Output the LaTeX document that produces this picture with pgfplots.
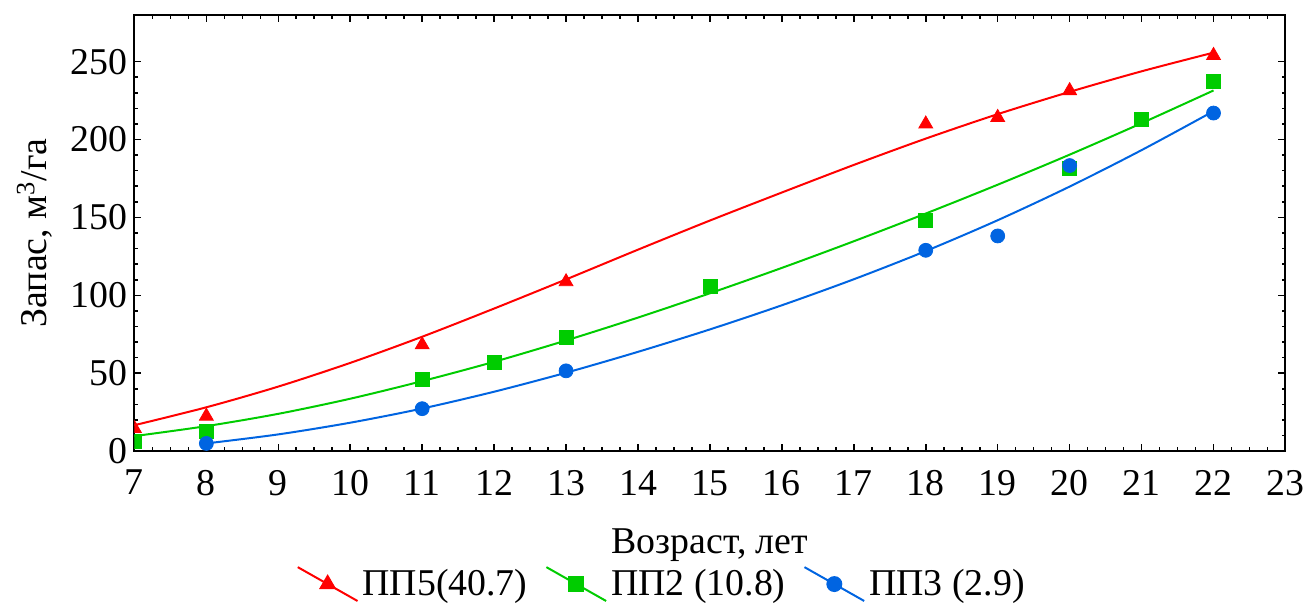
\documentclass[border=0pt]{standalone}
\usepackage{fontspec}
\setmainfont{Liberation Serif}
\usepackage{pgfplots}
\pgfplotsset{compat=1.18}
\definecolor{cred}{RGB}{255,0,0}
\definecolor{cgreen}{RGB}{0,204,0}
\definecolor{cblue}{RGB}{0,100,225}
\begin{document}
\begin{tikzpicture}[font=\fontsize{19}{23}\selectfont]
\begin{axis}[
  scale only axis,
  width=578pt, height=219pt,
  xmin=7, xmax=23, ymin=0, ymax=280,
  xtick={7,8,9,10,11,12,13,14,15,16,17,18,19,20,21,22,23},
  xticklabels={7,8,9,10,11,12,13,14,15,16,17,18,19,20,21,22,23},
  ytick={0,50,100,150,200,250},
  yticklabels={0,50,100,150,200,250},
  minor x tick num=3, minor y tick num=4,
  tick align=inside,
  major tick length=3.5pt, minor tick length=1.8pt,
  every tick/.style={black, line width=0.8pt},
  axis line style={line width=1pt},
  xticklabel style={yshift=-6pt},
  xlabel={Возраст, лет},
  ylabel={Запас, м\textsuperscript{3}/га},
  xlabel style={at={(axis description cs:0.5,-0.215)}, anchor=center},
  ylabel style={at={(axis description cs:-0.0865,0.5)}, anchor=center},
  clip marker paths=true,
  legend columns=3,
  legend style={at={(0.459,-0.305)}, anchor=center, draw=none, fill=none,
    /tikz/every even column/.style={column sep=7pt}},
  legend image code/.code={\draw[mark repeat=2,mark phase=2,#1] plot coordinates {(0pt,8.5pt)(15pt,0pt)(30pt,-8.5pt)};},
]
% fitted curves
\addplot[cred, line width=1pt, smooth, forget plot] coordinates {
(7,16.6)(8,28.1)(9,41.4)(10,56.6)(11,73.4)(12,91.5)(13,110.2)(14,129.3)(15,148)(16,166)(17,183.7)(18,200.6)(19,216.3)(20,230.6)(21,243.8)(22,255.8)};
\addplot[cgreen, line width=1pt, smooth, forget plot] coordinates {
(7,9.6)(8,16.0)(9,23.9)(10,33.6)(11,44.9)(12,57.3)(13,71.0)(14,85.7)(15,101.3)(16,117.6)(17,134.7)(18,152.5)(19,171.0)(20,190.3)(21,210.5)(22,231.5)};
\addplot[cblue, line width=1pt, smooth, forget plot] coordinates {
(8,4.9)(9,10.7)(10,18.2)(11,27.3)(12,38.1)(13,50.3)(14,63.7)(15,78.1)(16,93.6)(17,110.3)(18,128.4)(19,148.2)(20,169.8)(21,193.2)(22,218.2)};
% observed points
\addplot[only marks, mark=triangle*, mark size=4pt, cred, forget plot] coordinates {
(7,14.5)(8,22.4)(11,68.2)(13,108.7)(18,210)(19,214.2)(20,231.4)(22,254)};
\addplot[only marks, mark=square*, mark size=3.5pt, cgreen, forget plot] coordinates {
(7,6)(8,12.5)(11,46)(12,57.2)(13,73)(15,106)(18,148.3)(20,181.5)(21,212.9)(22,237.1)};
\addplot[only marks, mark=*, mark size=3.5pt, cblue, forget plot] coordinates {
(8,4.9)(11,27.2)(13,51.5)(18,128.9)(19,138.1)(20,183.3)(22,217)};
\addlegendimage{cred, line width=1pt, mark=triangle*, mark size=4pt}
\addlegendentry{ПП5(40.7)}
\addlegendimage{cgreen, line width=1pt, mark=square*, mark size=3.5pt}
\addlegendentry{ПП2 (10.8)}
\addlegendimage{cblue, line width=1pt, mark=*, mark size=3.5pt}
\addlegendentry{ПП3 (2.9)}
\end{axis}
\path ([shift={(-67.5pt,-78.5pt)}]current axis.south west) rectangle ([shift={(10pt,7.5pt)}]current axis.north east);
\end{tikzpicture}
\end{document}
